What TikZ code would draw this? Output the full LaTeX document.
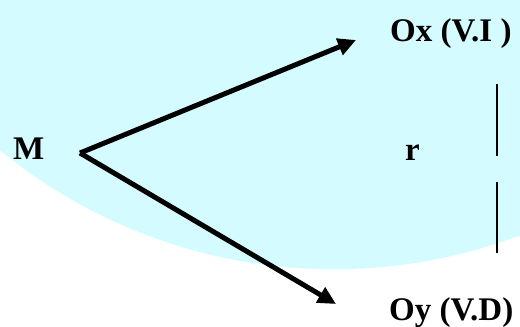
\documentclass[tikz,border=0pt]{standalone}
\usepackage{fontspec}
\setmainfont{Liberation Serif}
\usetikzlibrary{arrows.meta}
\definecolor{bgcyan}{RGB}{212,251,255}
\begin{document}
\begin{tikzpicture}[x=1pt,y=-1pt,
  every node/.style={inner sep=0pt,anchor=base west,font=\fontsize{33}{39}\bfseries\selectfont},
  vec/.style={line width=5pt,-{Triangle[length=18pt,width=17pt]}},
  bar/.style={line width=2.5pt}]
\useasboundingbox (0,0) rectangle (520,327);
% background
\fill [white] (0,0) rectangle (520,327);
\begin{scope}
\clip (0,0) rectangle (520,327);
\fill [bgcyan] (333.6,-257.8) circle (527);
\end{scope}
% labels
\node (m) at (13,159) {M};
\node (ox) at (390,41) {Ox (V.I )};
\node (r) at (405,160) {r};
\node (oy) at (389,320) {Oy (V.D)};
% arrows
\coordinate (m0) at (80,153);
\coordinate (tx) at (356,40);
\coordinate (ty) at (336,304);
\draw [vec] (m0) -- (tx);
\draw [vec] (m0) -- (ty);
% bracket for r
\draw [bar] (497,84) -- (497,156);
\draw [bar] (497,182) -- (497,253);
\end{tikzpicture}
\end{document}
